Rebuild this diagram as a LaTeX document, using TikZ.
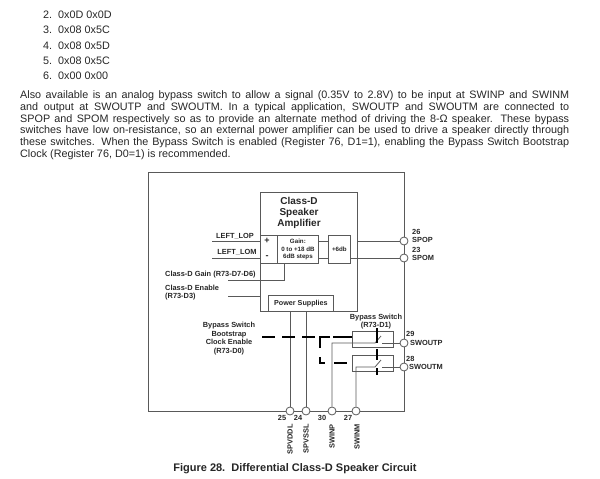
\documentclass[tikz,border=0pt]{standalone}
\usepackage{fontspec}
\setmainfont{Liberation Sans}
\begin{document}
\begin{tikzpicture}[x=1pt, y=-1pt]
    % Style definition for the blocks and labels
    \tikzset{box/.style={rectangle, draw=wirecol, line width=0.8pt, inner sep=0pt},
             pin/.style={circle, draw=wirecol, fill=white, line width=0.8pt, minimum size=8pt, inner sep=0pt},
             lbl/.style={inner sep=0pt, font=\fontsize{7.4}{8.6}\selectfont\bfseries, text=black!85, align=center},
             num/.style={inner sep=0pt, font=\fontsize{7.4}{8}\selectfont\bfseries, text=black!85},
             para/.style={inner sep=0pt, anchor=north west, text=black!85}}
    \colorlet{wirecol}{black!65}
    \tikzstyle{wire} = [draw=wirecol, line width=0.8pt]
    \tikzstyle{ctrl} = [draw=black, line width=1.2pt, dash pattern=on 13pt off 7pt]
    \tikzstyle{lever} = [draw=black, line width=1.2pt]
    \useasboundingbox (0,0) rectangle (600,479);

    % Numbered list
    \foreach \n/\val/\ypos in {2/0x0D 0x0D/15, 3/0x08 0x5C/30.2, 4/0x08 0x5D/45.3, 5/0x08 0x5C/60.5, 6/0x00 0x00/76} {
        \node (item\n) [inner sep=0pt, anchor=west, text=black!85, font=\fontsize{10.8}{12}\selectfont] at (43,\ypos) {\n.\hspace{6pt}\val};
    }

    % Paragraph
    \node (body) [para, text width=549pt, align=justify, font=\fontsize{10.8}{11.75}\selectfont] at (20,90.5) {Also available is an analog bypass switch to allow a signal (0.35V to 2.8V) to be input at SWINP and SWINM\linebreak[4]
    and output at SWOUTP and SWOUTM. In a typical application, SWOUTP and SWOUTM are connected to\linebreak[4]
    SPOP and SPOM respectively so as to provide an alternate method of driving the 8-Ω speaker. These bypass\linebreak[4]
    switches have low on-resistance, so an external power amplifier can be used to drive a speaker directly through\linebreak[4]
    these switches. When the Bypass Switch is enabled (Register 76, D1=1), enabling the Bypass Switch Bootstrap\linebreak[4]
    Clock (Register 76, D0=1) is recommended.};

    % Main Blocks
    \node (chip) [box, anchor=north west, minimum width=256pt, minimum height=239pt] at (148,172) {};
    \node (amp) [box, anchor=north west, minimum width=97pt, minimum height=119pt] at (260,192) {};
    \node (sign) [box, anchor=north west, minimum width=17pt, minimum height=28pt] at (260,235) {};
    \node (gain) [box, anchor=north west, minimum width=41pt, minimum height=28pt, align=center, font=\fontsize{6.2}{7.5}\selectfont\bfseries, text=black!85] at (277,235) {Gain:\\0 to +18 dB\\6dB steps};
    \node (boost) [box, anchor=north west, minimum width=22pt, minimum height=28pt, font=\fontsize{6.2}{7}\selectfont\bfseries, text=black!85] at (328,235) {+6db};
    \node (power) [box, anchor=north west, minimum width=65pt, minimum height=16pt, font=\fontsize{7.2}{8}\selectfont\bfseries, text=black!85] at (268,295) {Power Supplies};
    \node (swtop) [box, anchor=north west, minimum width=41pt, minimum height=16pt] at (352,331) {};
    \node (swbot) [box, anchor=north west, minimum width=41pt, minimum height=16pt] at (352,355) {};

    % Amplifier text
    \node (amptitle) [inner sep=0pt, align=center, font=\fontsize{10}{11.2}\selectfont\bfseries, text=black!85] at (299,213) {Class-D\\Speaker\\Amplifier};
    \node (plus) [lbl, font=\fontsize{9}{9}\selectfont\bfseries] at (267,241) {+};
    \node (minus) [lbl, font=\fontsize{9}{9}\selectfont\bfseries] at (267,257) {-};

    % Free ends of the inputs
    \coordinate (lop) at (212,241);
    \coordinate (lom) at (212,258);
    \coordinate (gainin) at (228,280);
    \coordinate (enablein) at (228,296);

    % Pins
    \node (spop) [pin] at (404,241) {};
    \node (spom) [pin] at (404,258) {};
    \node (swoutp) [pin] at (404,343) {};
    \node (swoutm) [pin] at (404,367) {};
    \node (spvddl) [pin] at (290,411) {};
    \node (spvssl) [pin] at (306,411) {};
    \node (swinp) [pin] at (332,411) {};
    \node (swinm) [pin] at (356,411) {};

    % Signal wires
    \draw [wire] (lop) -- (lop -| amp.west);
    \draw [wire] (lom) -- (lom -| amp.west);
    \draw [wire] (gainin) -| (284,263);
    \draw [wire] (enablein) -- (enablein -| amp.west);
    \draw [wire] (gain.east |- spop) -- (boost.west |- spop);
    \draw [wire] (gain.east |- spom) -- (boost.west |- spom);
    \draw [wire] (amp.east |- spop) -- (spop);
    \draw [wire] (boost.east |- spom) -- (spom);
    \draw [wire] (spvddl) -- (spvddl |- amp.south);
    \draw [wire] (spvssl) -- (spvssl |- amp.south);

    % Switches
    \draw [wire] (swinp) |- (375,343) -- (381,336);
    \draw [wire] (swinm) |- (375,367) -- (381,360);
    \draw [wire] (382,343) -- (swoutp);
    \draw [wire] (382,367) -- (swoutm);

    % Dashed controls
    \draw [ctrl] (262,337) -- (320,337);
    \draw [ctrl, dash pattern=on 19pt off 3pt on 21pt off 9pt on 11pt off 9pt on 13pt off 9pt] (swtop.west |- 0,337) -| (320,363) -- (347,363);
    \draw [lever] (377,328) -- (377,343);
    \draw [lever] (377,349) -- (377,360);
    \draw [lever] (377,368) -- (377,375);

    % Left labels
    \node (loplbl) [lbl] at (235,236) {LEFT\_LOP};
    \node (lomlbl) [lbl] at (237,252) {LEFT\_LOM};
    \node (gainlbl) [lbl, anchor=west] at (165,275) {Class-D Gain (R73-D7-D6)};
    \node (enablelbl) [lbl, anchor=west, align=left] at (165,292.5) {Class-D Enable\\(R73-D3)};
    \node (bootlbl) [lbl] at (229,338.5) {Bypass Switch\\Bootstrap\\Clock Enable\\(R73-D0)};
    \node (bypasslbl) [lbl] at (376,321.5) {Bypass Switch\\(R73-D1)};

    % Pin labels
    \node (n26) [num, anchor=west] at (412,232) {26};
    \node (l26) [num, anchor=west] at (412,239.5) {SPOP};
    \node (n23) [num, anchor=west] at (412,250) {23};
    \node (l23) [num, anchor=west] at (412,258) {SPOM};
    \node (n29) [num, anchor=west] at (406,334) {29};
    \node (l29) [num, anchor=west] at (410,343) {SWOUTP};
    \node (n28) [num, anchor=west] at (406,359) {28};
    \node (l28) [num, anchor=west] at (409,367) {SWOUTM};
    \node (n25) [num] at (282,418) {25};
    \node (n24) [num] at (298,418) {24};
    \node (n30) [num] at (322,418) {30};
    \node (n27) [num] at (348,418) {27};
    \node (l25) [num, rotate=90, anchor=east] at (290,424) {SPVDDL};
    \node (l24) [num, rotate=90, anchor=east] at (306,424) {SPVSSL};
    \node (l30) [num, rotate=90, anchor=east] at (332,424) {SWINP};
    \node (l27) [num, rotate=90, anchor=east] at (357,424) {SWINM};

    % Caption
    \node (caption) [inner sep=0pt, font=\fontsize{11}{12}\selectfont\bfseries, text=black!85] at (295,469) {Figure 28.\ \ Differential Class-D Speaker Circuit};
\end{tikzpicture}
\end{document}
